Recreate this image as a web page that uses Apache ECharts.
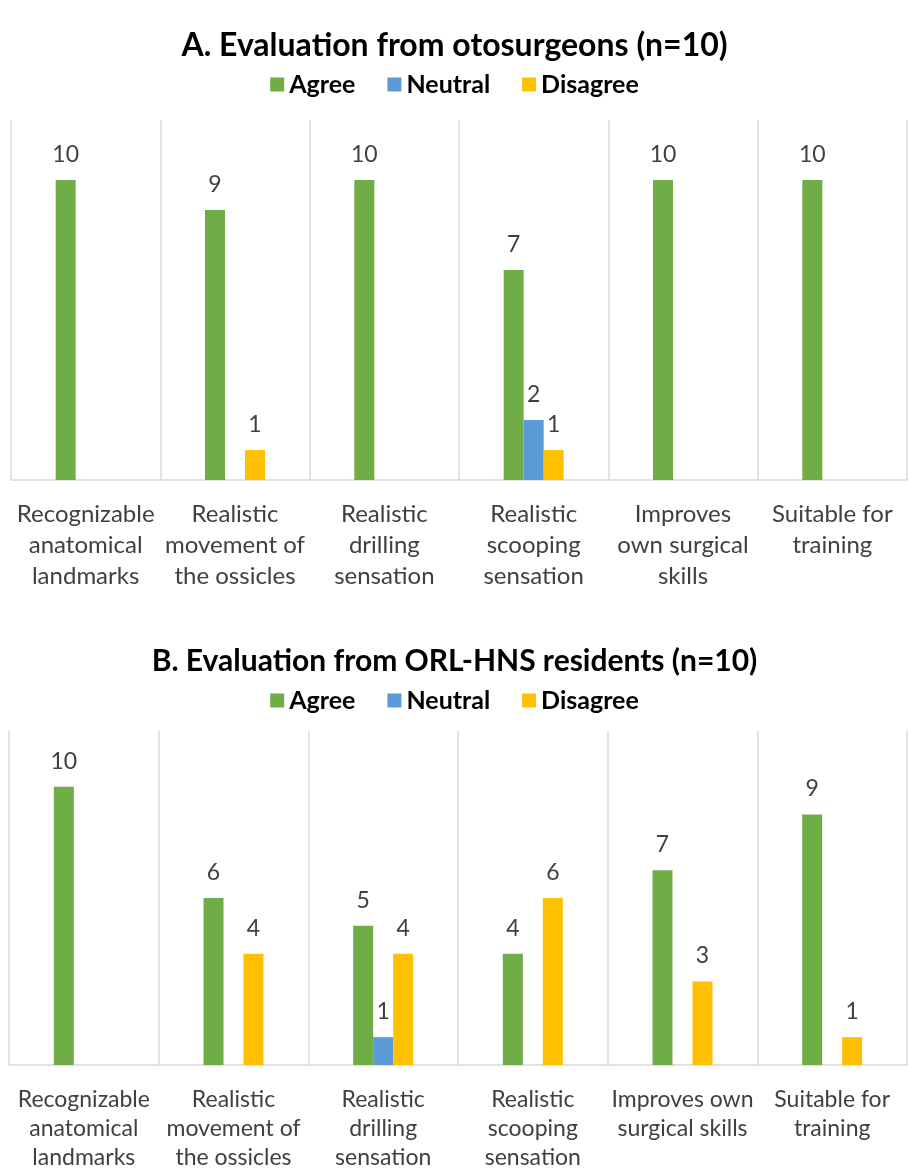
<!DOCTYPE html>
<html>
<head>
<meta charset="utf-8">
<script src="https://cdn.jsdelivr.net/npm/echarts@6/dist/echarts.min.js"></script>
<style>
  html, body { margin: 0; padding: 0; background: #fff; }
  #chart { width: 909px; height: 1172px; }
</style>
</head>
<body>
<div id="chart"></div>
<script>
// panel A: otosurgeons
const categoriesA = [
  'Recognizable\nanatomical\nlandmarks',
  'Realistic\nmovement of\nthe ossicles',
  'Realistic\ndrilling\nsensation',
  'Realistic\nscooping\nsensation',
  'Improves\nown surgical\nskills',
  'Suitable for\ntraining'
];
const agreeA = [10, 9, 10, 7, 10, 10];
const neutralA = [null, null, null, 2, null, null];
const disagreeA = [null, 1, null, 1, null, null];

// panel B: residents
const categoriesB = [
  'Recognizable\nanatomical\nlandmarks',
  'Realistic\nmovement of\nthe ossicles',
  'Realistic\ndrilling\nsensation',
  'Realistic\nscooping\nsensation',
  'Improves own\nsurgical skills',
  'Suitable for\ntraining'
];
const agreeB = [10, 6, 5, 4, 7, 9];
const neutralB = [null, null, 1, null, null, null];
const disagreeB = [null, 4, 4, 6, 3, 1];

const FONT = 'Lato, "Open Sans", sans-serif';
const COLORS = { Agree: '#70AD47', Neutral: '#5B9BD5', Disagree: '#FFC000' };
const GRAY = '#d9d9d9';
const TXT = '#404040';

const chart = echarts.init(document.getElementById('chart'), null, { renderer: 'canvas' });

function xAxisFor(gridIndex, data, fontSize, lineHeight, margin) {
  return {
    type: 'category',
    gridIndex,
    data,
    axisTick: { show: false },
    axisLine: { lineStyle: { color: GRAY, width: 1.5 } },
    splitLine: { show: true, lineStyle: { color: GRAY, width: 1.5 } },
    axisLabel: {
      interval: 0,
      color: TXT,
      fontFamily: FONT,
      fontSize,
      lineHeight,
      margin
    }
  };
}

function yAxisFor(gridIndex) {
  return {
    type: 'value',
    gridIndex,
    min: 0,
    max: 12,
    interval: 2,
    show: false,
    splitLine: { show: false }
  };
}

function barSeries(name, data, idx) {
  return {
    name,
    type: 'bar',
    xAxisIndex: idx,
    yAxisIndex: idx,
    data,
    barWidth: 20,
    barGap: '0%',
    itemStyle: { color: COLORS[name] },
    label: {
      show: true,
      position: 'top',
      distance: 14,
      color: TXT,
      fontFamily: FONT,
      fontSize: 23
    }
  };
}

function legendFor(top) {
  return {
    top,
    left: 'center',
    data: ['Agree', 'Neutral', 'Disagree'],
    icon: 'rect',
    itemWidth: 14,
    itemHeight: 14,
    itemGap: 32,
    textStyle: { fontFamily: FONT, fontSize: 25, fontWeight: 'bold', color: '#000' }
  };
}

chart.setOption({
  animation: false,
  title: [
    {
      text: 'A. Evaluation from otosurgeons (n=10)',
      left: 'center',
      top: 25,
      textStyle: { fontFamily: FONT, fontSize: 32, fontWeight: 'bold', color: '#000' }
    },
    {
      text: 'B. Evaluation from ORL-HNS residents (n=10)',
      left: 'center',
      top: 641,
      textStyle: { fontFamily: FONT, fontSize: 30, fontWeight: 'bold', color: '#000' }
    }
  ],
  legend: [legendFor(67), legendFor(683)],
  grid: [
    { left: 11, right: 2, top: 120, height: 360 },
    { left: 9, right: 2, top: 731, height: 341 }
  ],
  xAxis: [xAxisFor(0, categoriesA, 24, 31, 19), xAxisFor(1, categoriesB, 23, 29, 20)],
  yAxis: [yAxisFor(0), yAxisFor(1)],
  series: [
    barSeries('Agree', agreeA, 0),
    barSeries('Neutral', neutralA, 0),
    barSeries('Disagree', disagreeA, 0),
    barSeries('Agree', agreeB, 1),
    barSeries('Neutral', neutralB, 1),
    barSeries('Disagree', disagreeB, 1)
  ]
});
</script>
</body>
</html>
